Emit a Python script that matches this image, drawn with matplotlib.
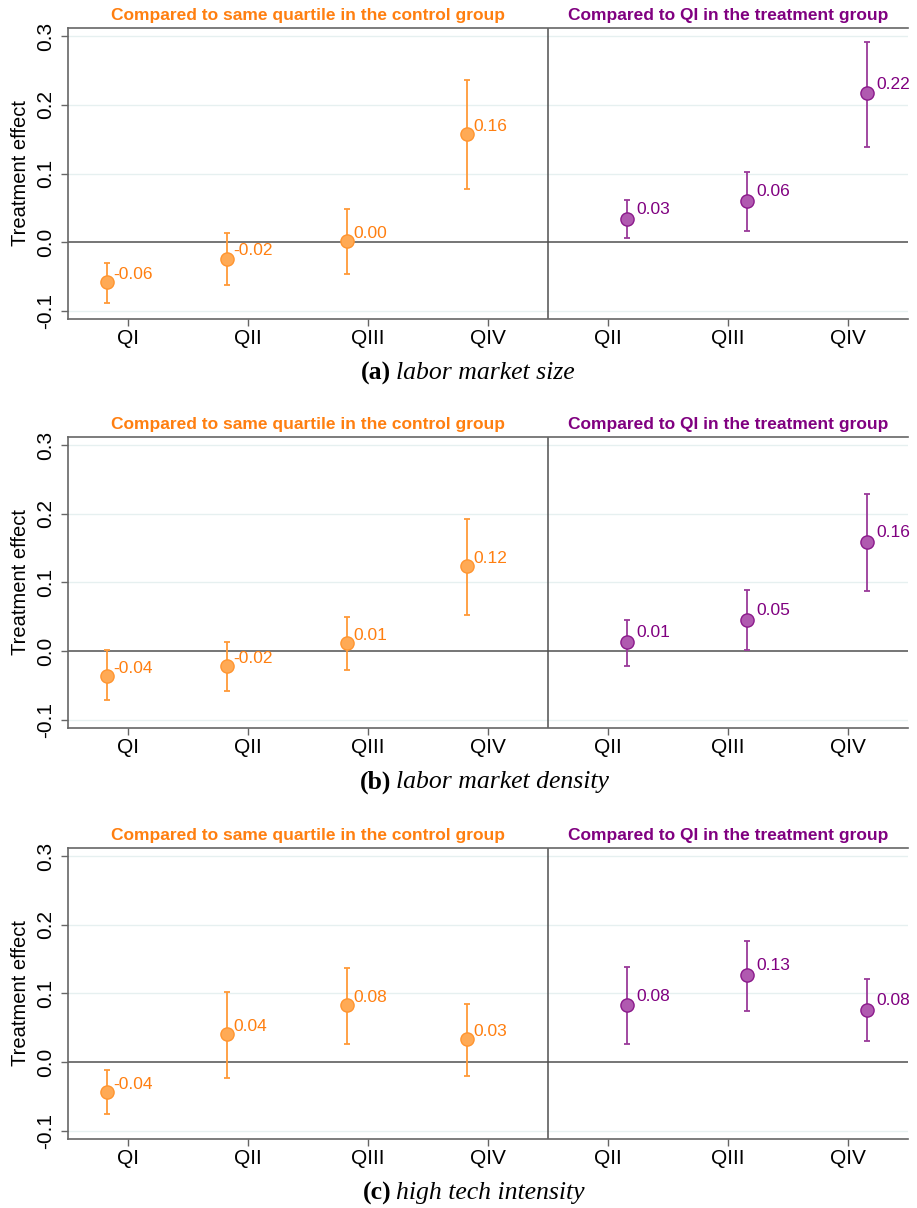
import numpy as np
import matplotlib
matplotlib.use("Agg")
import matplotlib.pyplot as plt

# quartile labels on the x axis: control block, then treatment block
ctrl_labels = ["QI", "QII", "QIII", "QIV"]
treat_labels = ["QII", "QIII", "QIV"]

panel_letters = ["(a)", "(b)", "(c)"]
panel_names = ["labor market size", "labor market density", "high tech intensity"]

# point estimates and 95% CI bounds, one row per panel
ctrl_est = [[-0.058, -0.024, 0.002, 0.158],
            [-0.036, -0.022, 0.012, 0.124],
            [-0.0435, 0.041, 0.083, 0.034]]
ctrl_lo = [[-0.088, -0.062, -0.046, 0.077],
           [-0.071, -0.058, -0.028, 0.053],
           [-0.075, -0.023, 0.027, -0.020]]
ctrl_hi = [[-0.030, 0.013, 0.048, 0.236],
           [0.001, 0.013, 0.050, 0.192],
           [-0.012, 0.102, 0.137, 0.084]]

treat_est = [[0.034, 0.060, 0.217],
             [0.014, 0.046, 0.159],
             [0.083, 0.127, 0.076]]
treat_lo = [[0.006, 0.016, 0.139],
            [-0.022, 0.002, 0.087],
            [0.027, 0.074, 0.031]]
treat_hi = [[0.062, 0.102, 0.292],
            [0.046, 0.089, 0.229],
            [0.139, 0.176, 0.121]]

ORANGE_TXT = "#ff7f10"
ORANGE_FILL = "#ffaa55"
ORANGE_BAR = "#ff9a38"
PURPLE_TXT = "#800080"
PURPLE_FILL = "#b05ab0"
PURPLE_BAR = "#9a3a9a"
SANS = ["Liberation Sans", "DejaVu Sans"]
SERIF = ["Liberation Serif", "DejaVu Serif"]

plt.rcParams["font.family"] = SANS

fig = plt.figure(figsize=(9.17, 12.08), dpi=100)
W, H = 917.0, 1208.0
tops = [28, 437, 848]

for p in range(3):
    top = tops[p]
    bot = top + 291
    ax = fig.add_axes([68 / W, 1 - bot / H, 840 / W, 291 / H])

    xc = np.arange(4)
    xt = np.arange(4, 7)

    ax.set_xlim(-0.5, 6.5)
    ax.set_ylim(-0.112, 0.312)

    for g in [-0.1, 0.1, 0.2, 0.3]:
        ax.axhline(g, color="#e6f0f0", lw=1.0, zorder=0)
    ax.axhline(0.0, color="#505050", lw=1.1, zorder=1)
    ax.axvline(3.5, color="#505050", lw=1.1, zorder=1)

    # control block
    ce = np.array(ctrl_est[p])
    xs = xc - 0.175
    ax.errorbar(xs, ce, yerr=[ce - np.array(ctrl_lo[p]), np.array(ctrl_hi[p]) - ce],
                fmt="none", ecolor=ORANGE_BAR, elinewidth=1.3, capsize=2.5,
                capthick=1.3, zorder=2)
    ax.plot(xs, ce, "o", ms=9.5, mfc=ORANGE_FILL, mec="#ff9530", mew=1.0, zorder=3)
    for x, v in zip(xs, ce):
        ax.annotate(f"{v:.2f}", (x, v), xytext=(4.5, 5.5), textcoords="offset points",
                    ha="left", va="center", fontsize=12.5, color=ORANGE_TXT)

    # treatment block
    te = np.array(treat_est[p])
    xs = xt + 0.16
    ax.errorbar(xs, te, yerr=[te - np.array(treat_lo[p]), np.array(treat_hi[p]) - te],
                fmt="none", ecolor=PURPLE_BAR, elinewidth=1.3, capsize=2.5,
                capthick=1.3, zorder=2)
    ax.plot(xs, te, "o", ms=9.5, mfc=PURPLE_FILL, mec="#8b1a8b", mew=1.0, zorder=3)
    for x, v in zip(xs, te):
        ax.annotate(f"{v:.2f}", (x, v), xytext=(6.5, 6.5), textcoords="offset points",
                    ha="left", va="center", fontsize=12.5, color=PURPLE_TXT)

    ax.set_xticks(np.arange(7))
    ax.set_xticklabels(ctrl_labels + treat_labels, fontsize=15)
    ax.set_yticks([-0.1, 0.0, 0.1, 0.2, 0.3])
    ax.set_yticklabels(["-0.1", "0.0", "0.1", "0.2", "0.3"], fontsize=15,
                       rotation=90, va="center")
    ax.tick_params(axis="both", length=5, width=1.0, color="#666666")
    ax.tick_params(axis="x", pad=2)
    ax.tick_params(axis="y", pad=4)
    ax.set_ylabel("Treatment effect", fontsize=14.5, labelpad=5)

    for side in ["left", "bottom", "top"]:
        ax.spines[side].set_color("#666666")
        ax.spines[side].set_linewidth(1.2)
    ax.spines["right"].set_visible(False)

    ax.annotate("Compared to same quartile in the control group", (1.5, 1.0),
                xycoords=("data", "axes fraction"), xytext=(0, 9),
                textcoords="offset points", ha="center", va="center",
                fontsize=12.5, fontweight="bold", color=ORANGE_TXT)
    ax.annotate("Compared to QI in the treatment group", (5.0, 1.0),
                xycoords=("data", "axes fraction"), xytext=(0, 9),
                textcoords="offset points", ha="center", va="center",
                fontsize=12.5, fontweight="bold", color=PURPLE_TXT)

    cy = 1 - (bot + 54) / H
    fig.text(391 / W, cy, panel_letters[p], ha="right", va="center",
             fontsize=18.5, fontweight="bold", family=SERIF)
    fig.text(396 / W, cy, panel_names[p], ha="left", va="center",
             fontsize=18.5, style="italic", family=SERIF)

fig.savefig("out.png", dpi=100)
